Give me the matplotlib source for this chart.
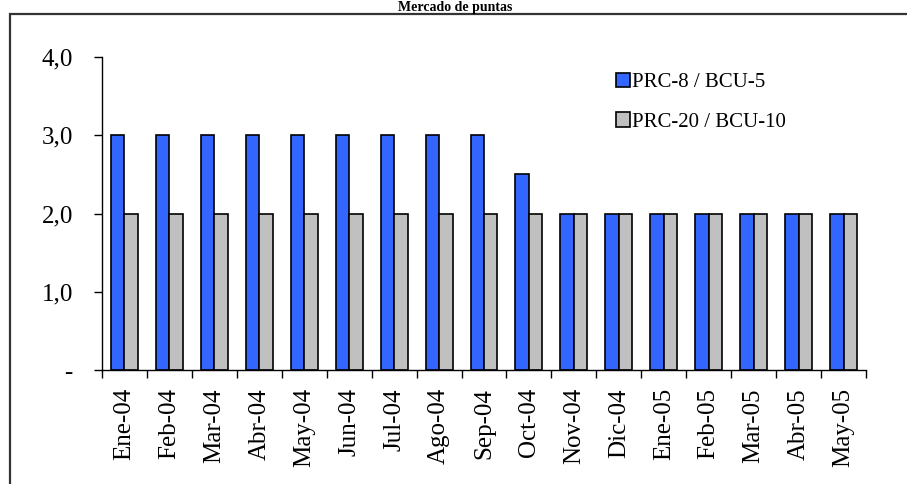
import matplotlib
matplotlib.use("Agg")
import matplotlib.pyplot as plt
from matplotlib.patches import Rectangle
import numpy as np

categories = ["Ene-04", "Feb-04", "Mar-04", "Abr-04", "May-04", "Jun-04", "Jul-04",
              "Ago-04", "Sep-04", "Oct-04", "Nov-04", "Dic-04", "Ene-05", "Feb-05",
              "Mar-05", "Abr-05", "May-05"]
prc8 = [3.0, 3.0, 3.0, 3.0, 3.0, 3.0, 3.0, 3.0, 3.0, 2.5, 2.0, 2.0, 2.0, 2.0, 2.0, 2.0, 2.0]
prc20 = [2.0] * 17
series_names = ["PRC-8 / BCU-5", "PRC-20 / BCU-10"]
yticks = [0, 1, 2, 3, 4]
ytick_labels = ["-", "1,0", "2,0", "3,0", "4,0"]
title = "Mercado de puntas"

W, H = 907, 484
fig = plt.figure(figsize=(W / 100, H / 100), dpi=100)
plt.rcParams['font.family'] = ['Liberation Serif', 'DejaVu Serif']

# outer frame
fig.patches.append(Rectangle((10 / W, -0.05), 1.2, (H - 14) / H + 0.05,
                             transform=fig.transFigure, fill=False,
                             edgecolor='#333333', linewidth=1.6))
fig.text(455 / W, 1 - 1 / H, title, ha='center', va='top', fontsize=10,
         fontweight='bold')

ax = fig.add_axes([102 / W, 1 - 370 / H, (866 - 102) / W, (370 - 57) / H])
x = np.arange(len(categories))
bw = 0.3
ax.bar(x - bw / 2, prc8, bw, color='#3366FF', edgecolor='black', linewidth=1.2,
       label=series_names[0])
ax.bar(x + bw / 2, prc20, bw, color='#C0C0C0', edgecolor='black', linewidth=1.2,
       label=series_names[1])
ax.set_xlim(-0.5, len(categories) - 0.5)
ax.set_ylim(0, 4)
ax.set_yticks(yticks)
ax.set_yticklabels(ytick_labels, fontsize=18)
ax.set_xticks(x)
ax.set_xticklabels(categories, rotation=90, fontsize=18)
ax.tick_params(axis='x', length=0, pad=13)
ax.set_xticks(np.arange(len(categories) + 1) - 0.5, minor=True)
ax.tick_params(axis='x', which='minor', length=6, width=1)
ax.tick_params(axis='y', length=6, width=1, pad=15)
for s in ['top', 'right']:
    ax.spines[s].set_visible(False)
for s in ['left', 'bottom']:
    ax.spines[s].set_linewidth(1)

leg = ax.legend(loc='upper left', bbox_to_anchor=((597 - 102) / (866 - 102), 1.0 + 3 / 313),
                frameon=False, fontsize=15, handlelength=0.7, handleheight=0.7,
                handletextpad=0.1, labelspacing=0.95)

fig.savefig("out.png", dpi=100)
